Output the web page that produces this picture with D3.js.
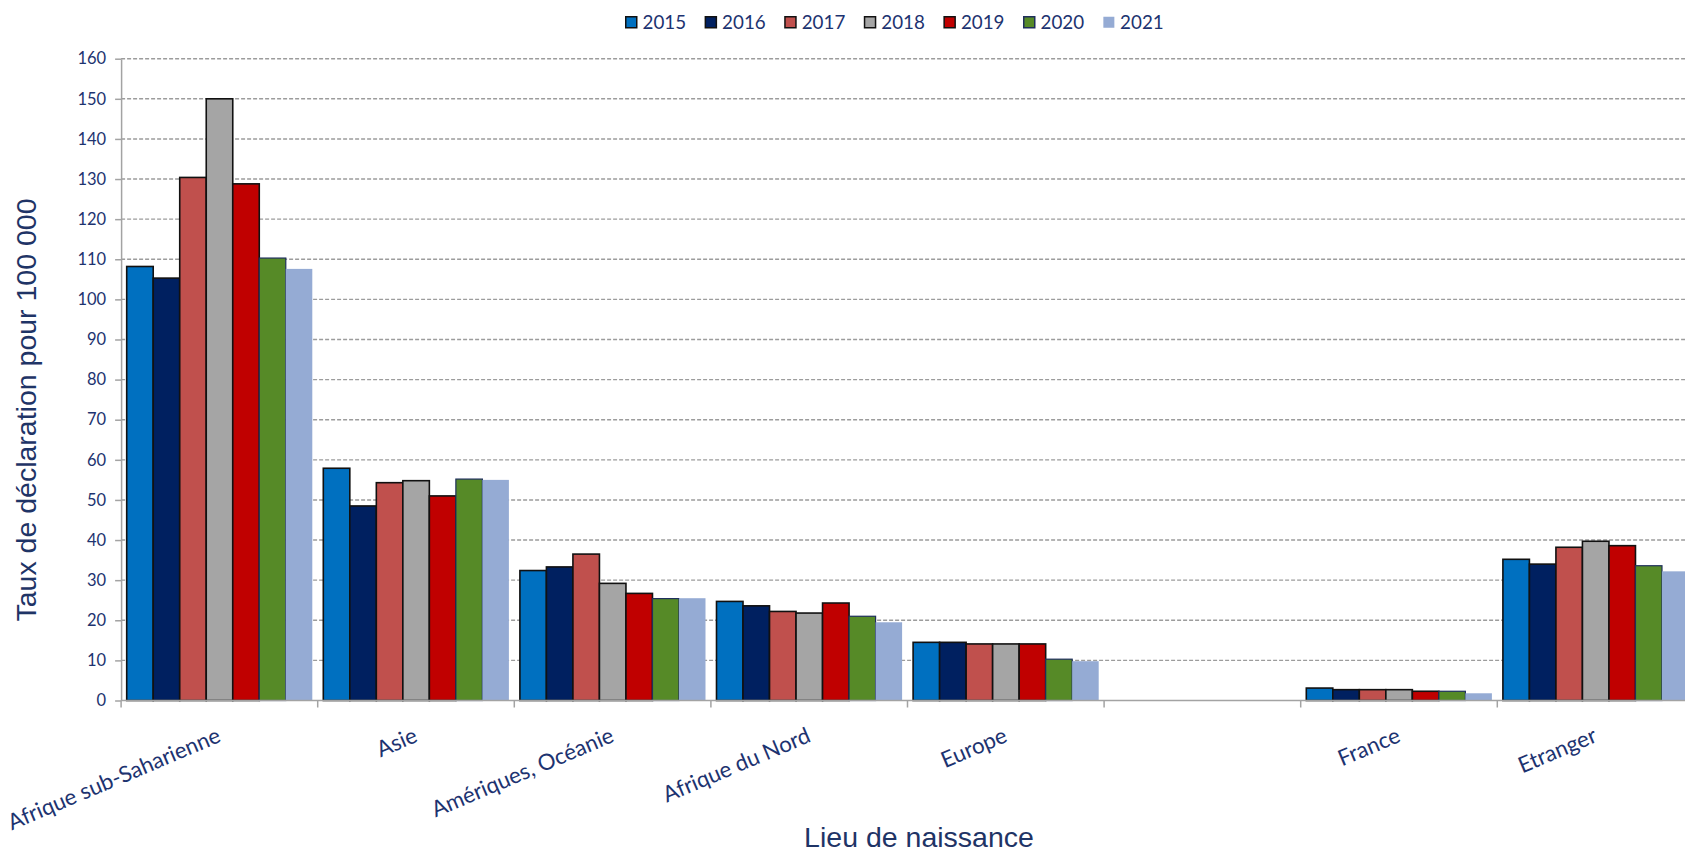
<!DOCTYPE html>
<html lang="fr">
<head>
<meta charset="utf-8">
<title>Taux de déclaration par lieu de naissance</title>
<script src="https://cdn.jsdelivr.net/npm/d3@7"></script>
<style>
  html, body { margin: 0; padding: 0; background: #ffffff; }
  svg { display: block; }
</style>
</head>
<body>
<script>
// Lieux de naissance (the sixth slot is an empty spacer between groups)
const categories = ["Afrique sub-Saharienne", "Asie", "Amériques, Océanie", "Afrique du Nord", "Europe", "", "France", "Etranger"];
const years = ["2015", "2016", "2017", "2018", "2019", "2020", "2021"];

// Taux de déclaration pour 100 000, one array per year, in category order
const v2015 = [108.2, 57.9, 32.4, 24.7, 14.5, null, 3.1, 35.2];
const v2016 = [105.3, 48.5, 33.3, 23.6, 14.5, null, 2.7, 34.0];
const v2017 = [130.4, 54.3, 36.5, 22.2, 14.1, null, 2.7, 38.2];
const v2018 = [150.0, 54.8, 29.2, 21.8, 14.1, null, 2.7, 39.7];
const v2019 = [128.8, 51.0, 26.7, 24.3, 14.1, null, 2.3, 38.6];
const v2020 = [110.3, 55.2, 25.4, 21.0, 10.3, null, 2.3, 33.6];
const v2021 = [107.6, 55.0, 25.5, 19.5, 9.8, null, 1.8, 32.2];
const seriesValues = [v2015, v2016, v2017, v2018, v2019, v2020, v2021];

const yTicks = [0, 10, 20, 30, 40, 50, 60, 70, 80, 90, 100, 110, 120, 130, 140, 150, 160];

const xTitle = "Lieu de naissance";
const yTitle = "Taux de déclaration pour 100 000";

// Styling
const fills   = ["#0070C0", "#002060", "#C0504D", "#A5A5A5", "#C00000", "#568A27", "#95ABD4"];
const strokes = ["#111111", "#111111", "#111111", "#111111", "#111111", "#1f2f5c", "none"];
const W = 1685, H = 852;
const labelFont = "Lato, Carlito, 'Open Sans', sans-serif";
const titleFont = "'Liberation Sans', Arial, sans-serif";
const navy = "#1d3370";
const titleColor = "#1f3466";
const axisGray = "#a3a3a3";

const svg = d3.select("body").append("svg")
  .attr("width", W).attr("height", H)
  .attr("viewBox", `0 0 ${W} ${H}`);

// Scales: the plot area runs past the right edge of the page
const band = 196.6;
const x0 = 121.1;
const x = d3.scaleBand().domain(categories).range([x0, x0 + band * categories.length]).padding(0);
const xs = d3.scaleBand().domain(years).range([5.6, x.bandwidth() - 5.4]).padding(0);
const y = d3.scaleLinear().domain([0, 160]).range([700.5, 58.7]);

// Dashed horizontal gridlines
svg.append("g").attr("class", "grid")
  .selectAll("line")
  .data(yTicks.filter(t => t > 0))
  .join("line")
  .attr("x1", x.range()[0]).attr("x2", x.range()[1])
  .attr("y1", d => y(d)).attr("y2", d => y(d))
  .attr("stroke", "#9c9c9c")
  .attr("stroke-width", 1.4)
  .attr("stroke-dasharray", "4 2");

// Bars
const rows = [];
years.forEach((yr, i) => {
  categories.forEach((c, j) => {
    const v = seriesValues[i][j];
    if (v != null) rows.push({ year: yr, idx: i, cat: c, value: v });
  });
});

svg.append("g").attr("class", "bars")
  .selectAll("rect")
  .data(rows)
  .join("rect")
  .attr("x", d => x(d.cat) + xs(d.year))
  .attr("y", d => y(d.value))
  .attr("width", xs.bandwidth())
  .attr("height", d => y(0) - y(d.value))
  .attr("fill", d => fills[d.idx])
  .attr("stroke", d => strokes[d.idx])
  .attr("stroke-width", d => d.idx === 5 ? 1.2 : 1.6);

// Y axis
const yAxis = svg.append("g")
  .attr("transform", `translate(${x0},0)`)
  .call(d3.axisLeft(y).tickValues(yTicks).tickSize(6).tickSizeOuter(0).tickPadding(9));
yAxis.select(".domain").attr("stroke", axisGray).attr("stroke-width", 1.5);
yAxis.selectAll(".tick line").attr("stroke", axisGray).attr("stroke-width", 1.5);
yAxis.selectAll(".tick text")
  .attr("fill", navy)
  .style("font-family", labelFont)
  .style("font-size", "16.5px");

// X axis baseline and boundary ticks
const xAxis = svg.append("g").attr("class", "x-axis");
xAxis.append("line")
  .attr("x1", x.range()[0]).attr("x2", x.range()[1])
  .attr("y1", y(0)).attr("y2", y(0))
  .attr("stroke", axisGray).attr("stroke-width", 1.5);
const boundaries = categories.map(c => x(c)).concat([x.range()[1]]);
xAxis.selectAll("line.tick")
  .data(boundaries)
  .join("line")
  .attr("class", "tick")
  .attr("x1", d => d).attr("x2", d => d)
  .attr("y1", y(0)).attr("y2", y(0) + 7)
  .attr("stroke", axisGray).attr("stroke-width", 1.5);

// Rotated category labels
xAxis.selectAll("text.cat")
  .data(categories.filter(c => c !== ""))
  .join("text")
  .attr("class", "cat")
  .attr("transform", d => `translate(${x(d) + x.bandwidth() / 2 - 3.5},${y(0) + 26}) rotate(-23)`)
  .attr("text-anchor", "end")
  .attr("dy", "0.72em")
  .attr("fill", navy)
  .style("font-family", labelFont)
  .style("font-size", "22.2px")
  .text(d => d);

// Axis titles
svg.append("text")
  .attr("x", 919).attr("y", 847)
  .attr("text-anchor", "middle")
  .attr("fill", titleColor)
  .style("font-family", titleFont)
  .style("font-size", "28.5px")
  .text(xTitle);

svg.append("text")
  .attr("transform", "translate(36,410) rotate(-90)")
  .attr("text-anchor", "middle")
  .attr("fill", titleColor)
  .style("font-family", titleFont)
  .style("font-size", "28.5px")
  .text(yTitle);

// Legend
const legend = svg.append("g").attr("class", "legend")
  .attr("transform", "translate(625,16)");
const item = legend.selectAll("g")
  .data(years)
  .join("g")
  .attr("transform", (d, i) => `translate(${i * 79.6},0)`);
item.append("rect")
  .attr("x", 0.75).attr("y", 0.75)
  .attr("width", 11).attr("height", 11)
  .attr("fill", (d, i) => fills[i])
  .attr("stroke", (d, i) => strokes[i])
  .attr("stroke-width", 1.5);
item.append("text")
  .attr("x", 17.5).attr("y", 6.5)
  .attr("dy", "0.36em")
  .attr("fill", navy)
  .style("font-family", labelFont)
  .style("font-size", "18.8px")
  .text(d => d);
</script>
</body>
</html>
